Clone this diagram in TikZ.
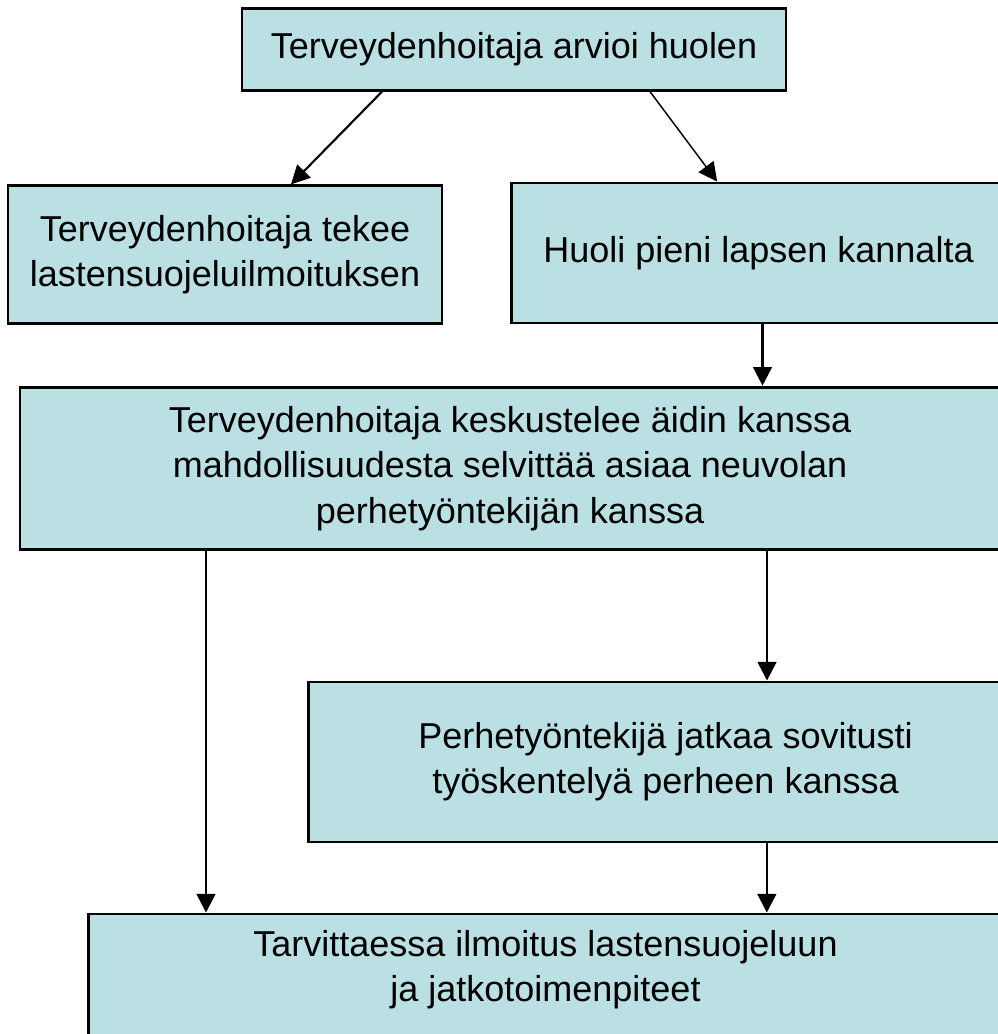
\documentclass[tikz,border=0pt]{standalone}
\usepackage{fontspec}
\setmainfont{Liberation Sans}
\usetikzlibrary{arrows.meta}
\definecolor{laatikko}{RGB}{187,224,227}
\begin{document}
\begin{tikzpicture}[x=0.75pt,y=-0.75pt,
	ruutu/.style={draw=black,line width=2.2pt,fill=laatikko,inner sep=0pt,
		align=center,font=\fontsize{27pt}{34pt}\selectfont},
	nuoli/.style={line width=2pt,-{Triangle[length=14pt,width=14pt]}}]

	\useasboundingbox (0,0) rectangle (998,1034);
	\clip (0,0) rectangle (998,1034);

% Laatikot
	\node[ruutu,minimum width=408pt,minimum height=61pt] (huoli) at (514,49.5)
		{Terveydenhoitaja arvioi huolen};
	\node[ruutu,minimum width=325.5pt,minimum height=103pt] (ilmoitus) at (225,254.5)
		{Terveydenhoitaja tekee\\lastensuojeluilmoituksen};
	\node[ruutu,minimum width=371pt,minimum height=105pt] (pieni) at (758.5,253)
		{Huoli pieni lapsen kannalta};
	\node[ruutu,minimum width=735pt,minimum height=122pt] (keskustelu) at (510,468.5)
		{Terveydenhoitaja keskustelee äidin kanssa\\mahdollisuudesta selvittää asiaa neuvolan\\perhetyöntekijän kanssa};
	\node[ruutu,minimum width=536pt,minimum height=120pt] (perhetyo) at (665.5,762)
		{Perhetyöntekijä jatkaa sovitusti\\työskentelyä perheen kanssa};
	\node[ruutu,minimum width=686pt,minimum height=102pt,text depth=24pt] (toimet) at (545.5,982)
		{Tarvittaessa ilmoitus lastensuojeluun\\ja jatkotoimenpiteet};

% Nuolet
	\draw[nuoli,line width=1.6pt] ([xshift=-99pt]huoli.south) -- ([xshift=49.5pt]ilmoitus.north);
	\draw[nuoli,line width=1.1pt] ([xshift=102pt]huoli.south) -- ([xshift=-31pt]pieni.north);
	\draw[nuoli] ([xshift=3pt]pieni.south) -- ([xshift=3pt]pieni.south |- keskustelu.north);
	\draw[nuoli] ([xshift=-228pt]keskustelu.south) -- ([xshift=-228pt]keskustelu.south |- toimet.north);
	\draw[nuoli] ([xshift=192.75pt]keskustelu.south) -- ([xshift=192.75pt]keskustelu.south |- perhetyo.north);
	\draw[nuoli] ([xshift=76pt]perhetyo.south) -- ([xshift=76pt]perhetyo.south |- toimet.north);

\end{tikzpicture}
\end{document}
